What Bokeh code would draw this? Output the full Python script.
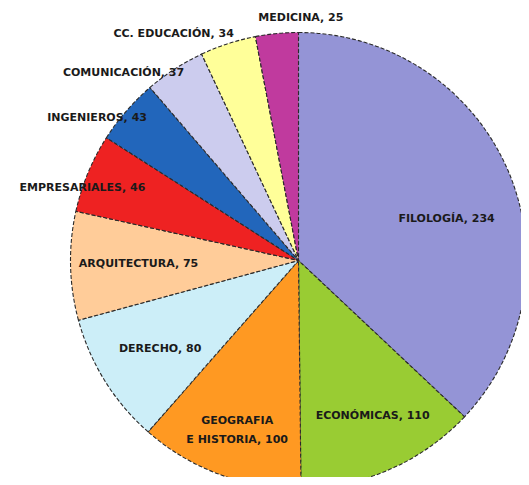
import numpy as np
from bokeh.plotting import figure
from bokeh.models import ColumnDataSource, Range1d
from bokeh.core.properties import value
from bokeh.embed import file_html
from bokeh.resources import INLINE

# --- data ---
categories = ["FILOLOGÍA", "ECONÓMICAS", "GEOGRAFIA E HISTORIA", "DERECHO", "ARQUITECTURA",
              "EMPRESARIALES", "INGENIEROS", "COMUNICACIÓN", "CC. EDUCACIÓN", "MEDICINA"]
values = [318, 110, 100, 80, 66, 48, 40, 37, 34, 26]
label_texts = ["FILOLOGÍA, 234", "ECONÓMICAS,  110", "GEOGRAFIA\nE HISTORIA, 100", "DERECHO, 80",
               "ARQUITECTURA, 75", "EMPRESARIALES, 46", "INGENIEROS, 43", "COMUNICACIÓN, 37",
               "CC. EDUCACIÓN, 34", "MEDICINA, 25"]
colors = ["#9494D6", "#99CC33", "#FF9922", "#CCEEF8", "#FFCC99",
          "#EE2222", "#2266BB", "#CCCCEE", "#FFFF99", "#C03A9E"]

# --- layout / style ---
R = 228
label_r = [154, 173, 180, 164, 160, 228, 247, 257, 259, 243]
label_dang = [7.4, -2.4, -0.4, -0.5, 0.4, -3.9, -5.6, -10.0, -10.8, 6.0]

vals = np.array(values, dtype=float)
frac = vals / vals.sum()
cum_end = np.cumsum(frac) * 2 * np.pi
cum_start = cum_end - frac * 2 * np.pi
mid = (cum_start + cum_end) / 2

src = ColumnDataSource(dict(
    cat=categories, val=values, color=colors,
    start=np.pi / 2 - cum_start, end=np.pi / 2 - cum_end,
))

p = figure(width=521, height=477, output_backend="svg", toolbar_location=None,
           x_range=Range1d(-298, 223), y_range=Range1d(-217, 260), min_border=0)
p.axis.visible = False
p.grid.visible = False
p.outline_line_color = None

p.wedge(x=0, y=0, radius=R, start_angle="start", end_angle="end", direction="clock",
        fill_color="color", line_color="#2a2a2a", line_width=1.1, line_dash="4 2",
        source=src)

ang = mid + np.radians(label_dang)
lx = np.array(label_r) * np.sin(ang)
ly = np.array(label_r) * np.cos(ang)
lsrc = ColumnDataSource(dict(x=lx, y=ly, t=label_texts))
p.text(x="x", y="y", text="t", source=lsrc, text_align="center", text_baseline="middle",
       text_font=value("DejaVu Sans"), text_font_style="bold", text_font_size="11px",
       text_color="#1a1a1a", text_line_height=1.45)

open("out.html", "w").write(file_html(p, INLINE))
